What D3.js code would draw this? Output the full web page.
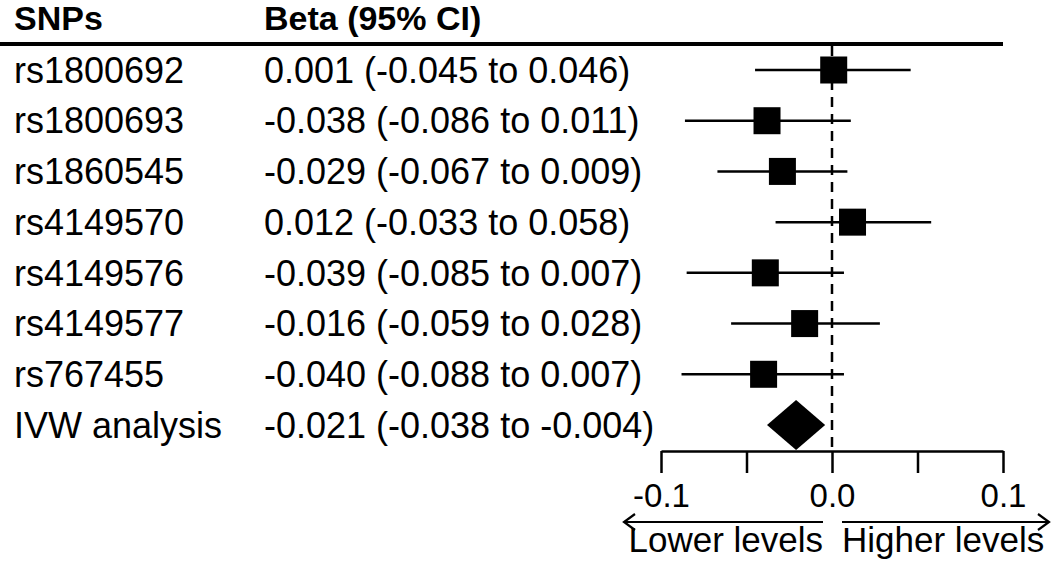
<!DOCTYPE html>
<html>
<head>
<meta charset="utf-8">
<script src="https://cdn.jsdelivr.net/npm/d3@7"></script>
<style>
  body { margin: 0; background: #fff; }
  svg { display: block; font-family: "Liberation Sans", Arial, Helvetica, sans-serif; }
</style>
</head>
<body>
<div id="chart"></div>
<script>
// Data.
const snps = ['rs1800692', 'rs1800693', 'rs1860545', 'rs4149570', 'rs4149576', 'rs4149577', 'rs767455'];
const betas = [0.001, -0.038, -0.029, 0.012, -0.039, -0.016, -0.040];
const lowers = [-0.045, -0.086, -0.067, -0.033, -0.085, -0.059, -0.088];
const uppers = [0.046, 0.011, 0.009, 0.058, 0.007, 0.028, 0.007];
const pooledLabel = 'IVW analysis';
const pooled = [-0.021, -0.038, -0.004]; // beta, lower, upper
const tickValues = [-0.1, -0.05, 0, 0.05, 0.1];
const tickLabels = ['-0.1', '', '0.0', '', '0.1'];
const headers = ['SNPs', 'Beta (95% CI)'];
const directionLabels = ['Lower levels', 'Higher levels'];

const W = 1052, H = 566;
const col1 = 14, col2 = 264;
const axisY = 451;

const svg = d3.select('#chart')
    .append('svg')
        .attr('width', W)
        .attr('height', H);

// Scales.
const rows = snps.concat([pooledLabel]);
const x = d3.scaleLinear().domain([-0.1, 0.1]).range([661, 1003]);
const y = d3.scalePoint().domain(rows).range([70, 425]);

const fmt = v => v.toFixed(3);
const ciText = (b, l, u) => `${fmt(b)} (${fmt(l)} to ${fmt(u)})`;

// Header.
svg.selectAll('text.header')
    .data(headers)
    .enter()
    .append('text')
        .attr('class', 'header')
        .attr('x', (d, i) => i === 0 ? col1 : col2)
        .attr('y', 30)
        .style('font-size', '34px')
        .style('font-weight', 'bold')
        .text(d => d);

svg.append('line')
    .attr('x1', 0).attr('x2', x(0.1))
    .attr('y1', 44).attr('y2', 44)
    .attr('stroke', '#000')
    .attr('stroke-width', 4);

// Reference line at zero.
svg.append('line')
    .attr('x1', x(0)).attr('x2', x(0))
    .attr('y1', 46).attr('y2', axisY)
    .attr('stroke', '#000')
    .attr('stroke-width', 2.5)
    .attr('stroke-dasharray', '10,7');

// Row texts.
const rowData = snps.map((s, i) => ({label: s, beta: betas[i], lo: lowers[i], hi: uppers[i]}));
const allRows = rowData.concat([{label: pooledLabel, beta: pooled[0], lo: pooled[1], hi: pooled[2]}]);

const textRows = svg.selectAll('g.row')
    .data(allRows)
    .enter()
    .append('g')
        .attr('class', 'row')
        .attr('transform', d => `translate(0,${y(d.label) + 12.7})`)
        .style('font-size', '36px');
textRows.append('text').attr('x', col1).text(d => d.label);
textRows.append('text').attr('x', col2).text(d => ciText(d.beta, d.lo, d.hi));

// Whiskers.
svg.selectAll('line.ci')
    .data(rowData)
    .enter()
    .append('line')
        .attr('class', 'ci')
        .attr('x1', d => x(d.lo))
        .attr('x2', d => x(d.hi))
        .attr('y1', d => y(d.label))
        .attr('y2', d => y(d.label))
        .attr('stroke', '#000')
        .attr('stroke-width', 2.5);

// Squares.
const sq = 27;
svg.selectAll('rect.pt')
    .data(rowData)
    .enter()
    .append('rect')
        .attr('class', 'pt')
        .attr('x', d => x(d.beta) - sq / 2)
        .attr('y', d => y(d.label) - sq / 2)
        .attr('width', sq)
        .attr('height', sq)
        .attr('fill', '#000');

// Pooled diamond.
const py = y(pooledLabel);
svg.append('path')
    .attr('d', `M${x(pooled[1])},${py} L${x(pooled[0])},${py - 25} L${x(pooled[2])},${py} L${x(pooled[0])},${py + 25} Z`)
    .attr('fill', '#000');

// X axis.
const axis = svg.append('g')
    .attr('transform', `translate(0,${axisY})`)
    .call(d3.axisBottom(x)
        .tickValues(tickValues)
        .tickFormat((d, i) => tickLabels[i])
        .tickSize(22)
        .tickSizeOuter(0)
        .tickPadding(11));
axis.select('.domain').attr('stroke-width', 2.5);
axis.selectAll('.tick line').attr('stroke-width', 2.5);
axis.selectAll('.tick text')
    .style('font-size', '33px')
    .style('font-family', '"Liberation Sans", Arial, Helvetica, sans-serif');

// Direction arrows.
const arrowY = 522;
const arrows = [
    {x1: 823, x2: 624},
    {x1: 842, x2: 1049}
];
svg.selectAll('path.arrow')
    .data(arrows)
    .enter()
    .append('path')
        .attr('class', 'arrow')
        .attr('d', d => {
            const s = d.x2 > d.x1 ? -1 : 1;
            return `M${d.x1},${arrowY} L${d.x2},${arrowY} M${d.x2 + s * 11},${arrowY - 8} L${d.x2},${arrowY} L${d.x2 + s * 11},${arrowY + 8}`;
        })
        .attr('fill', 'none')
        .attr('stroke', '#000')
        .attr('stroke-width', 2.2);

svg.append('text')
    .attr('x', 823)
    .attr('y', 552)
    .attr('text-anchor', 'end')
    .style('font-size', '35px')
    .text(directionLabels[0]);
svg.append('text')
    .attr('x', 842)
    .attr('y', 552)
    .style('font-size', '35px')
    .text(directionLabels[1]);
</script>
</body>
</html>
